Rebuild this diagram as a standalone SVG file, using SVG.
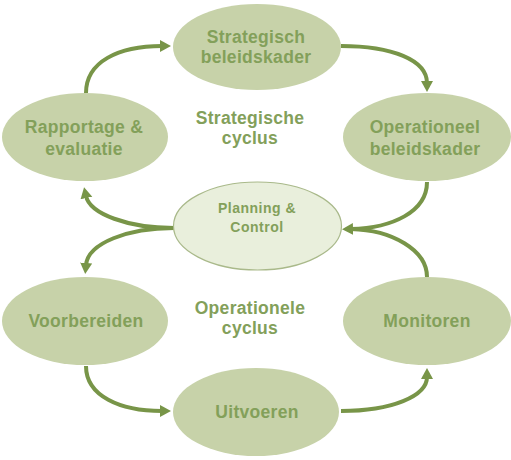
<svg xmlns="http://www.w3.org/2000/svg" width="511" height="460" viewBox="0 0 511 460">
<defs>
<style>
.node{fill:#c7d2a9;}
.pc{fill:#e9efdc;stroke:#a9b98a;stroke-width:1.2;}
.t{font-family:"Liberation Sans",Arial,sans-serif;font-weight:bold;font-size:17.5px;fill:#83a05a;text-anchor:middle;letter-spacing:0.3px;}
.ts{font-size:14px;letter-spacing:0.5px;}
.c{fill:none;stroke:#789548;stroke-width:4;}
</style>
<marker id="ah" markerUnits="userSpaceOnUse" markerWidth="14" markerHeight="14" viewBox="0 0 14 14" refX="2" refY="7" orient="auto">
<path d="M0,1 L11,7 L0,13 Z" fill="#789548"/>
</marker>
</defs>
<rect width="511" height="460" fill="#ffffff"/>
<g id="connectors">
<path class="c" d="M86,93 C86,62 118,46 162,46" marker-end="url(#ah)"/>
<path class="c" d="M341,46 C392,46 427,60 427,83" marker-end="url(#ah)"/>
<path class="c" d="M427,182 C427,212 392,228 351,229" marker-end="url(#ah)"/>
<path class="c" d="M427,277 C427,250 392,230 351,229"/>
<path class="c" d="M174,228 C128,228 90,214 86,196" marker-end="url(#ah)"/>
<path class="c" d="M174,228 C128,228 88,243 86,265" marker-end="url(#ah)"/>
<path class="c" d="M86,366 C86,396 120,411 162,411" marker-end="url(#ah)"/>
<path class="c" d="M341,411 C392,411 427,396 427,377" marker-end="url(#ah)"/>
</g>
<g id="strategisch">
<ellipse class="node" cx="257" cy="47" rx="84" ry="43"/>
<text class="t" x="256" y="42.5">Strategisch</text>
<text class="t" x="256" y="62.5">beleidskader</text>
</g>
<g id="operationeel">
<ellipse class="node" cx="427" cy="137" rx="84" ry="44"/>
<text class="t" x="425" y="133">Operationeel</text>
<text class="t" x="425" y="155">beleidskader</text>
</g>
<g id="rapportage">
<ellipse class="node" cx="85" cy="137" rx="83" ry="44"/>
<text class="t" x="84" y="133">Rapportage &amp;</text>
<text class="t" x="84" y="155">evaluatie</text>
</g>
<g id="strategische-cyclus">
<text class="t" x="250" y="124">Strategische</text>
<text class="t" x="250" y="144">cyclus</text>
</g>
<g id="planning">
<ellipse class="pc" cx="257.5" cy="226" rx="84" ry="44"/>
<text class="t ts" x="257" y="213">Planning &amp;</text>
<text class="t ts" x="257" y="231.5">Control</text>
</g>
<g id="voorbereiden">
<ellipse class="node" cx="85" cy="321" rx="83" ry="44"/>
<text class="t" x="86" y="327">Voorbereiden</text>
</g>
<g id="monitoren">
<ellipse class="node" cx="427" cy="321" rx="84" ry="44"/>
<text class="t" x="427" y="327">Monitoren</text>
</g>
<g id="operationele-cyclus">
<text class="t" x="250" y="314">Operationele</text>
<text class="t" x="250" y="334">cyclus</text>
</g>
<g id="uitvoeren">
<ellipse class="node" cx="256" cy="412" rx="83" ry="44"/>
<text class="t" x="257" y="418">Uitvoeren</text>
</g>
</svg>
